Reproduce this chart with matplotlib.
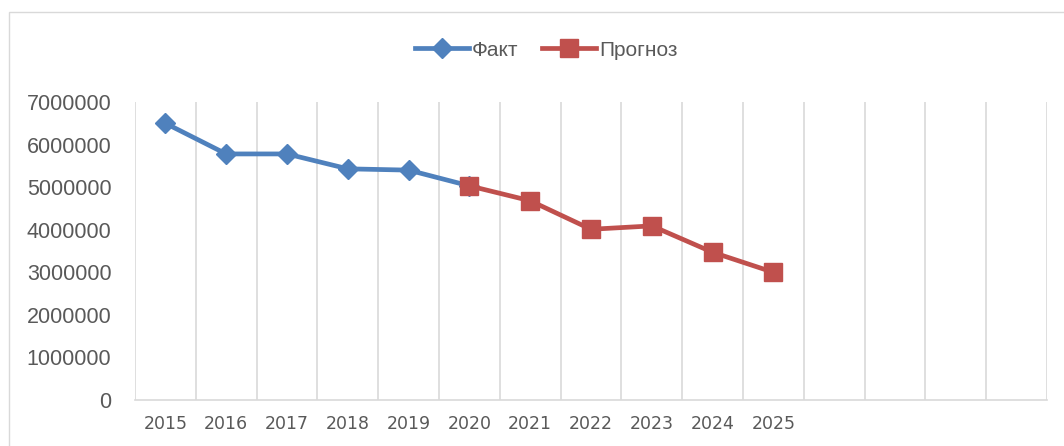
import matplotlib
matplotlib.use("Agg")
import matplotlib.pyplot as plt
from matplotlib.patches import Rectangle
from matplotlib.ticker import FixedLocator, NullFormatter

years = ["2015", "2016", "2017", "2018", "2019", "2020",
         "2021", "2022", "2023", "2024", "2025", "", "", "", ""]
fact_years = ["2015", "2016", "2017", "2018", "2019", "2020"]
fact = [6500000, 5780000, 5780000, 5430000, 5400000, 5030000]
forecast_years = ["2020", "2021", "2022", "2023", "2024", "2025"]
forecast = [5030000, 4680000, 4010000, 4090000, 3470000, 3000000]
y_ticks = [0, 1000000, 2000000, 3000000, 4000000, 5000000, 6000000, 7000000]

grid_c = "#D9D9D9"
text_c = "#595959"
blue = "#4F81BD"
red = "#C0504D"

W, H = 1064, 446
fig = plt.figure(figsize=(W / 100, H / 100), dpi=100)
fig.patches.append(Rectangle((9 / W, -0.1), 1.2, 1 - 12 / H + 0.1,
                             transform=fig.transFigure, fill=False,
                             edgecolor=grid_c, linewidth=1.0))

ax = fig.add_axes([135 / W, 1 - 400 / H, (1047 - 135) / W, (400 - 102) / H])

pos = {y: i for i, y in enumerate(years) if y}
fx = [pos[y] for y in fact_years]
px = [pos[y] for y in forecast_years]

ax.plot(fx, fact, color=blue, lw=3.4, marker="D", ms=10,
        label="Факт", solid_joinstyle="round", zorder=3)
ax.plot(px, forecast, color=red, lw=3.4, marker="s", ms=12.5,
        label="Прогноз", solid_joinstyle="round", zorder=4)

ax.set_xlim(-0.5, len(years) - 0.5)
ax.set_ylim(0, 7000000)

ax.set_xticks(range(len(years)))
ax.set_xticklabels(years, fontfamily="DejaVu Sans", fontsize=12.5, color=text_c)
ax.xaxis.set_minor_locator(FixedLocator([i - 0.5 for i in range(len(years) + 1)]))
ax.xaxis.set_minor_formatter(NullFormatter())
ax.grid(which="minor", axis="x", color=grid_c, lw=1.2)
ax.tick_params(axis="x", which="both", length=0, pad=11)

ax.set_yticks(y_ticks)
ax.set_yticklabels([str(v) for v in y_ticks], fontfamily="Liberation Sans",
                   fontsize=15.5, color=text_c)
ax.tick_params(axis="y", length=0, pad=17)

for s in ["top", "left", "right"]:
    ax.spines[s].set_visible(False)
ax.spines["bottom"].set_color(grid_c)
ax.spines["bottom"].set_linewidth(1.2)

leg = fig.legend(loc="center", bbox_to_anchor=(546 / W, 1 - 50 / H), ncol=2,
                 frameon=False, prop={"family": "Liberation Sans", "size": 15},
                 handlelength=2.6, handletextpad=0.15, columnspacing=1.1)
for t in leg.get_texts():
    t.set_color(text_c)

fig.savefig("out.png", dpi=100)
